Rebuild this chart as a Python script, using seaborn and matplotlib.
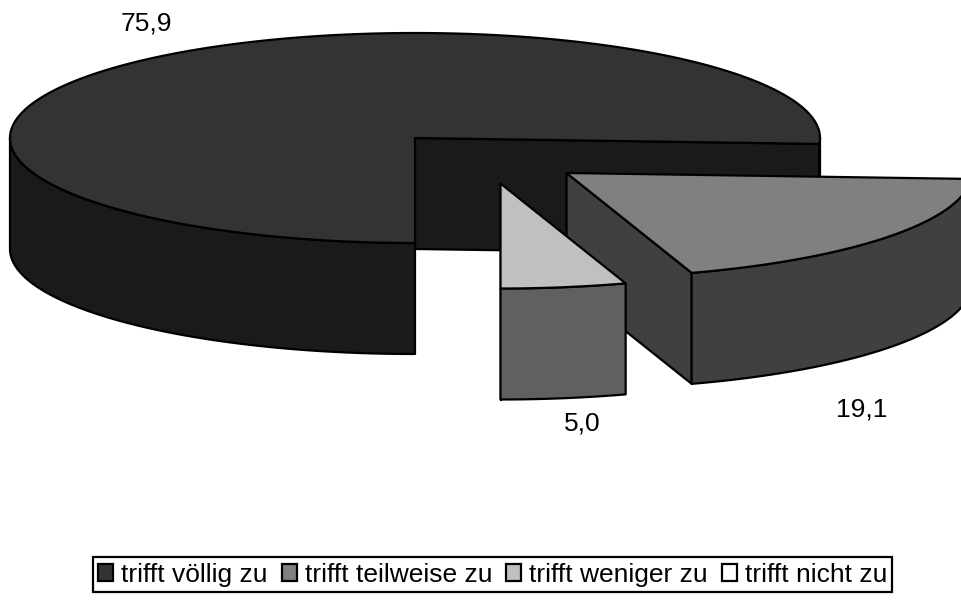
import numpy as np
import matplotlib
matplotlib.use("Agg")
import matplotlib.pyplot as plt
from matplotlib.patches import Polygon, Patch
import seaborn as sns

categories = ["trifft völlig zu", "trifft teilweise zu", "trifft weniger zu", "trifft nicht zu"]
values = [75.9, 19.1, 5.0, 0.0]
top_colors = ["#333333", "#808080", "#c0c0c0", "#ffffff"]
side_colors = ["#1a1a1a", "#404040", "#606060", "#ffffff"]
start_angle = 180.0

# layout (pixels)
CX, CY, RX, RY, DEPTH = 415.0, 138.0, 405.0, 105.0, 111.0
explode = [(0.0, 0.0), (151.5, 35.0), (85.5, 45.5), (0.0, 0.0)]
label_pos = [(146, 23), (862, 409), (582, 424)]

sns.set_theme(style="white")
plt.rcParams["font.family"] = ["Liberation Sans", "DejaVu Sans"]

fig = plt.figure(figsize=(9.61, 6.0), dpi=100)
ax = fig.add_axes([0, 0, 1, 1])
ax.set_xlim(0, 961)
ax.set_ylim(600, 0)
ax.axis("off")
LW = 1.6
FS = 19


def arc(cx, cy, a0, a1):
    t = np.radians(np.linspace(a0, a1, max(int(abs(a1 - a0)) * 2, 2) + 1))
    return np.column_stack([cx + RX * np.sin(t), cy - RY * np.cos(t)])


def poly(pts, fc, z):
    ax.add_patch(Polygon(pts, closed=True, fc=fc, ec="black", lw=LW,
                         joinstyle="round", zorder=z))


angle = start_angle
for i, v in enumerate(values):
    if v <= 0:
        continue
    a0, a1 = angle, angle + v * 3.6
    angle = a1
    cx, cy = CX + explode[i][0], CY + explode[i][1]
    z = 10 * (i + 1)
    down = np.array([0, DEPTH])
    apex = np.array([[cx, cy]])
    # cut walls
    for a in (a0, a1):
        s = np.radians(a)
        faces = (a == a1 and np.cos(s) < 0 and np.sin(s) > 0) or (a == a0 and np.sin(s) < 0)
        if faces:
            p = arc(cx, cy, a, a)[0]
            poly(np.array([apex[0], p, p + down, apex[0] + down]), side_colors[i], z)
    # outer front walls
    for k in (0, 360):
        lo, hi = max(a0, 90 + k), min(a1, 270 + k)
        if lo < hi:
            e = arc(cx, cy, lo, hi)
            poly(np.vstack([e, (e + down)[::-1]]), side_colors[i], z + 1)
    # top face
    poly(np.vstack([apex, arc(cx, cy, a0, a1)]), top_colors[i], z + 2)

for v, (x, y) in zip(values, label_pos):
    ax.text(x, y, f"{v:.1f}".replace(".", ","), ha="center", va="center",
            fontsize=FS, color="black", zorder=100)

handles = [Patch(fc=c, ec="black", lw=LW) for c in top_colors]
leg = ax.legend(handles, categories, ncol=4, loc="lower left",
                bbox_to_anchor=(93 / 961, 1 - 592 / 600), borderaxespad=0,
                fontsize=FS, frameon=True, fancybox=False, framealpha=1,
                edgecolor="black", handlelength=0.57, handleheight=0.57,
                handletextpad=0.3, columnspacing=0.53, borderpad=0.2,
                labelcolor="black")
leg.get_frame().set_linewidth(1.6)
leg.set_zorder(200)

fig.savefig("out.png", dpi=100, facecolor="white")
